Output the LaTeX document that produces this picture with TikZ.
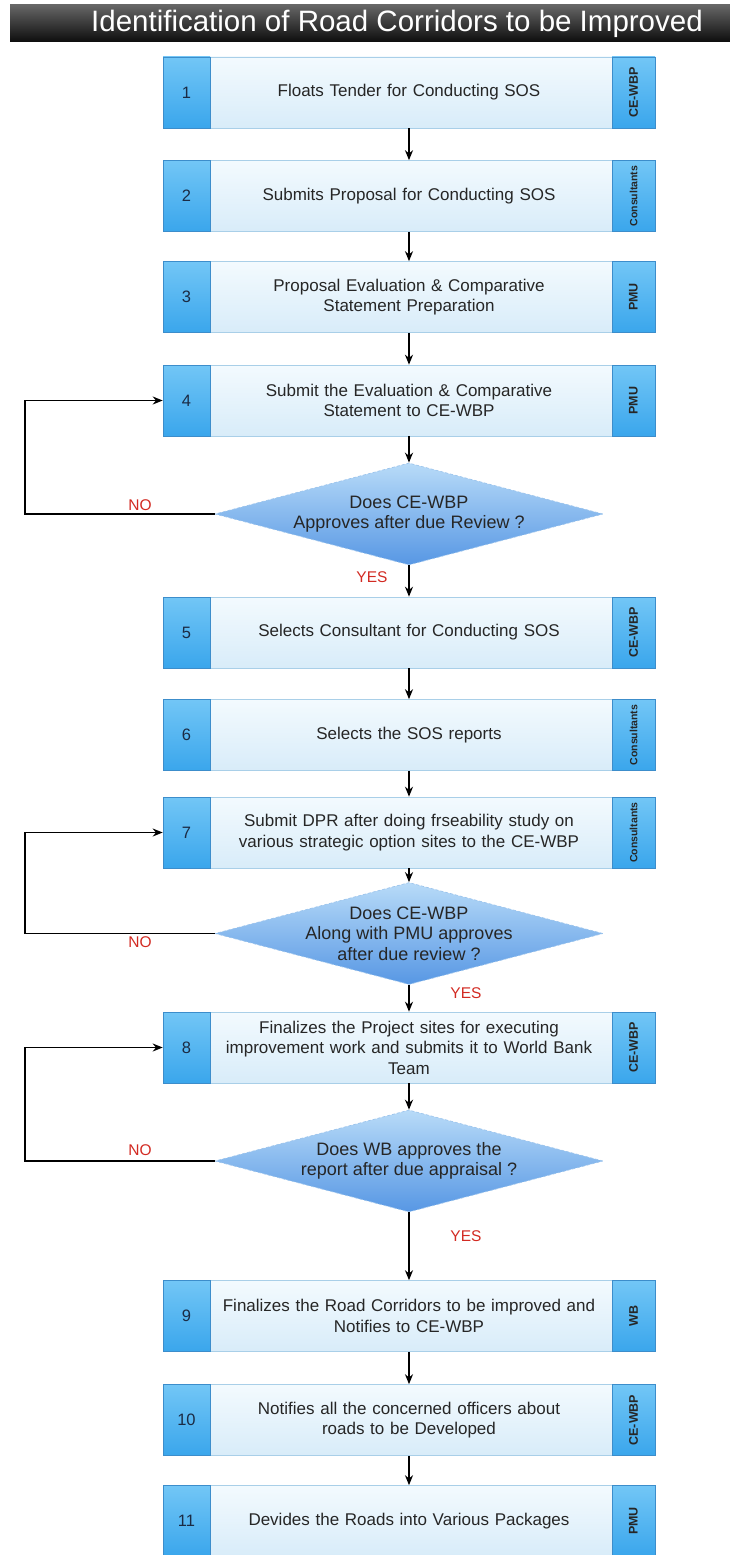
\documentclass[tikz,border=0pt]{standalone}
\usepackage{fontspec}
\setmainfont{Liberation Sans}
\usetikzlibrary{shapes.geometric,arrows.meta}

\definecolor{cellTop}{HTML}{72C6F6}
\definecolor{cellBot}{HTML}{3AA6EC}
\definecolor{cellLine}{HTML}{3C8DCB}
\definecolor{bodyTop}{HTML}{F3FAFE}
\definecolor{bodyBot}{HTML}{D8ECF9}
\definecolor{bodyLine}{HTML}{A9CFE8}
\definecolor{decTop}{HTML}{B8DBF8}
\definecolor{decBot}{HTML}{5797E4}
\definecolor{decLine}{HTML}{9CC4EC}
\definecolor{numInk}{HTML}{1B2B44}
\definecolor{noYes}{HTML}{D22A22}

\tikzset{
  x=1pt, y=-1pt,
  bodybox/.style={rectangle, draw=bodyLine, line width=0.6pt,
    top color=bodyTop, bottom color=bodyBot,
    minimum width=492pt, minimum height=71pt, inner sep=0pt,
    text width=400pt, align=center,
    font=\fontsize{17}{20.5}\selectfont, text=black!85},
  numcell/.style={rectangle, draw=cellLine, line width=0.6pt,
    top color=cellTop, bottom color=cellBot,
    minimum width=47pt, minimum height=71pt, inner sep=0pt,
    font=\fontsize{16.5}{19}\selectfont, text=numInk},
  rolecell/.style={rectangle, draw=cellLine, line width=0.6pt,
    top color=cellTop, bottom color=cellBot,
    minimum width=71pt, minimum height=43pt, inner sep=0pt,
    rotate=90, font=\fontsize{12.5}{14}\selectfont\bfseries, text=black!85},
  smallrole/.style={font=\fontsize{10.5}{12}\selectfont\bfseries},
  decision/.style={diamond, aspect=3.8, inner sep=0pt,
    minimum width=388pt, minimum height=102pt,
    draw=decLine, densely dashed, line width=0.7pt,
    top color=decTop, bottom color=decBot,
    align=center, font=\fontsize{18}{20.5}\selectfont, text=black!85},
  % keeps a three-line question inside the usual diamond size
  tightdecision/.style={decision, inner sep=-12pt},
  flow/.style={line width=1.8pt, -{Stealth[length=10pt,width=8pt]}},
  loopline/.style={line width=1.6pt, -{Stealth[length=10pt,width=8pt]}},
  answer/.style={font=\fontsize{15.5}{18}\selectfont, text=noYes},
  titlebar/.style={rectangle, top color=black!60, bottom color=black!95,
    minimum width=774pt, minimum height=37pt, inner sep=0pt,
    font=\fontsize{29.5}{32}\selectfont, text=white},
}

% One process row: body, step number on the left, responsible party on the right
\newcommand{\flowstep}[6][]{%
  \node[bodybox] (#2) at (409,#3) {#5};
  \node[numcell] (#2n) at (186.5,#3) {#4};
  \node[rolecell,#1] (#2r) at (633.5,#3) {#6};
}

\begin{document}
\begin{tikzpicture}
\useasboundingbox (0,0) rectangle (729,1555);

% the bar runs past the right edge of the page
\node[titlebar] (title) at (397,23.5) {Identification of Road Corridors to be Improved};

\flowstep{s1}{92.5}{1}{Floats Tender for Conducting SOS}{CE-WBP}
\flowstep[smallrole]{s2}{196}{2}{Submits Proposal for Conducting SOS}{Consultants}
\flowstep{s3}{297}{3}{Proposal Evaluation \& Comparative\\Statement Preparation}{PMU}
\flowstep{s4}{400.5}{4}{Submit the Evaluation \& Comparative\\Statement to CE-WBP}{PMU}
\node[decision] (d1) at (409,514) {Does CE-WBP\\Approves after due Review ?};
\flowstep{s5}{632.5}{5}{Selects Consultant for Conducting SOS}{CE-WBP}
\flowstep[smallrole]{s6}{735}{6}{Selects the SOS reports}{Consultants}
\flowstep[smallrole]{s7}{832.5}{7}{Submit DPR after doing frseability study on\\various strategic option sites to the CE-WBP}{Consultants}
\node[tightdecision] (d2) at (409,933.5) {Does CE-WBP\\Along with PMU approves\\after due review ?};
\flowstep{s8}{1047.5}{8}{Finalizes the Project sites for executing\\improvement work and submits it to World Bank\\Team}{CE-WBP}
\node[decision] (d3) at (409,1161) {Does WB approves the\\report after due appraisal ?};
\flowstep{s9}{1316}{9}{Finalizes the Road Corridors to be improved and\\Notifies to CE-WBP}{WB}
\flowstep{s10}{1420}{10}{Notifies all the concerned officers about\\roads to be Developed}{CE-WBP}
\flowstep{s11}{1521}{11}{Devides the Roads into Various Packages}{PMU}

% main sequence
\draw[flow] (s1) -- (s2);
\draw[flow] (s2) -- (s3);
\draw[flow] (s3) -- (s4);
\draw[flow] (s4) -- (d1);
\draw[flow] (d1) -- (s5);
\draw[flow] (s5) -- (s6);
\draw[flow] (s6) -- (s7);
\draw[flow] (s7) -- (d2);
\draw[flow] (d2) -- (s8);
\draw[flow] (s8) -- (d3);
\draw[flow] (d3) -- (s9);
\draw[flow] (s9) -- (s10);
\draw[flow] (s10) -- (s11);

% rejection loops
\coordinate (rail) at (25,0);
\draw[loopline] (d1.west) -- (d1.west -| rail) |- (s4n.west);
\draw[loopline] (d2.west) -- (d2.west -| rail) |- (s7n.west);
\draw[loopline] (d3.west) -- (d3.west -| rail) |- (s8n.west);

% answers
\node[answer] (no1) at (140,505) {NO};
\node[answer] (no2) at (140,942) {NO};
\node[answer] (no3) at (140,1150) {NO};
\node[answer] (yes1) at (372,577) {YES};
\node[answer] (yes2) at (466,993) {YES};
\node[answer] (yes3) at (466,1236) {YES};
\end{tikzpicture}
\end{document}
